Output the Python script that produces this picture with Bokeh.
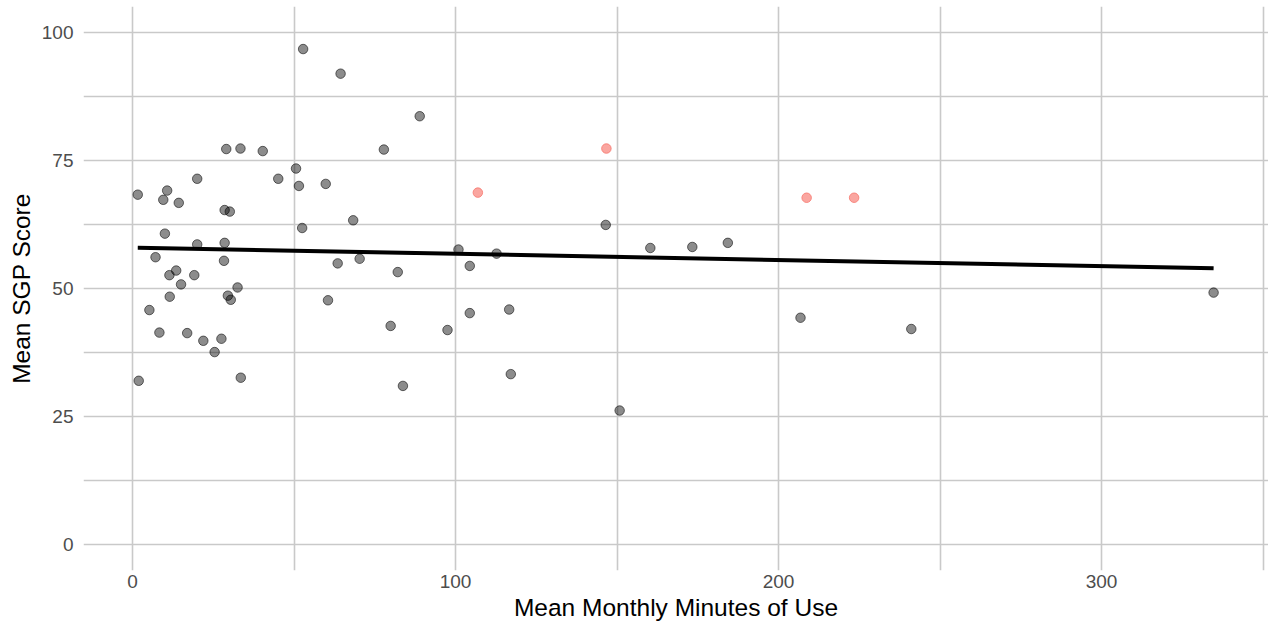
import numpy as np
from bokeh.plotting import figure
from bokeh.models import FixedTicker, Range1d
from bokeh.embed import file_html
from bokeh.resources import INLINE

# grey points (mean monthly minutes, mean SGP score)
grey_x = [52.8, 64.4, 88.9, 29.0, 33.4, 40.3, 77.8, 50.6, 20.0, 45.1, 51.5, 59.8,
          1.6, 10.7, 9.5, 14.3, 28.5, 30.1, 68.3,
          52.5, 10.0, 20.0, 28.5, 7.1, 28.3, 63.5, 70.3, 82.1, 13.5, 11.4, 19.1,
          15.0, 32.5, 11.5, 29.5, 30.4, 60.5, 5.2, 79.9, 8.3, 16.9, 21.9, 27.5,
          25.4, 1.9, 33.5, 83.7,
          146.5, 100.9, 112.7, 104.4, 160.3, 173.3, 184.3, 104.4, 116.6, 97.5,
          117.1, 206.8, 150.8, 241.1, 334.7]
grey_y = [96.7, 91.9, 83.6, 77.2, 77.3, 76.8, 77.1, 73.4, 71.4, 71.4, 70.0, 70.4,
          68.3, 69.1, 67.3, 66.7, 65.3, 65.0, 63.3,
          61.8, 60.7, 58.6, 58.9, 56.1, 55.4, 54.9, 55.8, 53.2, 53.5, 52.6, 52.6,
          50.8, 50.2, 48.4, 48.6, 47.8, 47.7, 45.8, 42.7, 41.4, 41.3, 39.8, 40.2,
          37.6, 32.0, 32.6, 31.0,
          62.4, 57.6, 56.8, 54.4, 57.9, 58.1, 58.9, 45.2, 45.9, 41.9,
          33.3, 44.3, 26.2, 42.1, 49.2]

# highlighted points
pink_x = [146.7, 106.9, 208.7, 223.4]
pink_y = [77.3, 68.7, 67.7, 67.7]

x_ticks = [0, 100, 200, 300]
x_minor = [50, 150, 250, 350]
y_ticks = [0, 25, 50, 75, 100]
y_minor = [12.5, 37.5, 62.5, 87.5]

all_x = np.array(grey_x + pink_x)
all_y = np.array(grey_y + pink_y)
slope, intercept = np.polyfit(all_x, all_y, 1)
fit_x = np.array([all_x.min(), all_x.max()])
fit_y = intercept + slope * fit_x

p = figure(width=1268, height=627, output_backend="svg", toolbar_location=None,
           x_range=Range1d(-15.2, 351.7), y_range=Range1d(-5, 105),
           min_border_left=83, min_border_right=0, min_border_top=6,
           min_border_bottom=57)
p.outline_line_color = None
p.background_fill_color = "white"
p.border_fill_color = "white"

grid_col = "#c9c9c9"
p.xaxis.ticker = FixedTicker(ticks=x_ticks, minor_ticks=x_minor)
p.yaxis.ticker = FixedTicker(ticks=y_ticks, minor_ticks=y_minor)
for g in (p.xgrid[0], p.ygrid[0]):
    g.grid_line_color = grid_col
    g.grid_line_width = 1.6
    g.minor_grid_line_color = grid_col
    g.minor_grid_line_width = 1.6

for ax in (p.xaxis[0], p.yaxis[0]):
    ax.axis_line_color = None
    ax.major_tick_line_color = None
    ax.minor_tick_line_color = None
    ax.major_tick_out = 0
    ax.major_tick_in = 0
    ax.minor_tick_out = 0
    ax.minor_tick_in = 0
    ax.major_label_text_font = "Liberation Sans"
    ax.major_label_text_font_size = "19px"
    ax.major_label_text_color = "#4d4d4d"
    ax.axis_label_text_font = "Liberation Sans"
    ax.axis_label_text_font_size = "24.5px"
    ax.axis_label_text_font_style = "normal"
    ax.axis_label_text_color = "black"

p.xaxis.axis_label = "Mean Monthly Minutes of Use"
p.yaxis.axis_label = "Mean SGP Score"
p.xaxis.major_label_standoff = 4
p.yaxis.major_label_standoff = 10
p.xaxis.axis_label_standoff = 3
p.yaxis.axis_label_standoff = 4

p.scatter(grey_x, grey_y, size=9.5, fill_color="black", fill_alpha=0.45,
          line_color="black", line_alpha=0.55, line_width=1)
p.scatter(pink_x, pink_y, size=9.5, fill_color="#F8766D", fill_alpha=0.65,
          line_color="#F8766D", line_alpha=0.8, line_width=1)
p.line(fit_x, fit_y, line_color="black", line_width=4)

open("out.html", "w").write(file_html(p, INLINE))
